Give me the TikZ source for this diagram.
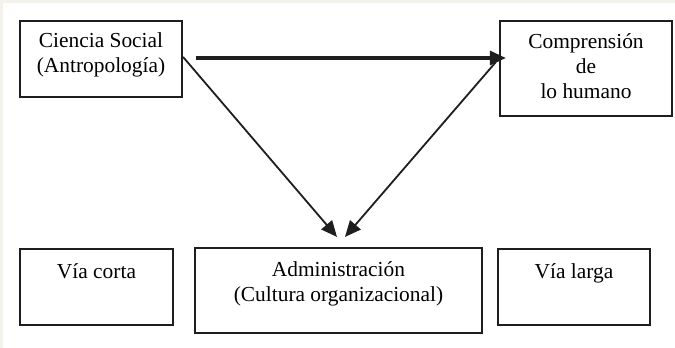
\documentclass[tikz,border=0pt]{standalone}
\usepackage{fontspec}
\setmainfont{Liberation Serif}
\usepackage{tikz}
\usetikzlibrary{arrows.meta, positioning, calc}

\definecolor{paper}{HTML}{F4F2ED}
\definecolor{ink}{HTML}{1E1E1E}

\begin{document}
\begin{tikzpicture}[
  x=0.5pt, y=-0.5pt,
  box/.style = {draw=ink, line width=1.1pt, inner sep=0pt},
  txt/.style = {align=center, inner sep=0pt, anchor=north, font=\fontsize{10.7}{12.5}\selectfont},
  bigarrow/.style = {draw=ink, line width=1.6pt, -{Triangle[length=8pt, width=7pt]}},
  arrow/.style = {draw=ink, line width=0.9pt, -{Triangle[length=8pt, width=7pt]}}
]

  % frame
  \fill[paper] (0,0) rectangle (675,348);
  \fill[white] (3,3) rectangle (675,348);
  \useasboundingbox (0,0) rectangle (675,348);

  % Ciencia Social
  \node[box, minimum width=81pt, minimum height=38pt] (ciencia) at (101,59) {};
  \node[txt, below=6pt of ciencia.north, anchor=north] (ciencia_t) {Ciencia Social\\(Antropología)};

  % Comprension
  \node[box, minimum width=86pt, minimum height=47.5pt] (compr) at (586,68.5) {};
  \node[txt, below=6.5pt of compr.north, anchor=north] (compr_t) {Comprensión\\de\\lo humano};

  % Via corta
  \node[box, minimum width=76.5pt, minimum height=38pt] (corta) at (96.5,287) {};
  \node[txt, below=7.5pt of corta.north, anchor=north] (corta_t) {Vía corta};

  % Administracion
  \node[box, minimum width=143.5pt, minimum height=42.5pt] (admin) at (338.5,290.5) {};
  \node[txt, below=7pt of admin.north, anchor=north] (admin_t) {Administración\\(Cultura organizacional)};

  % Via larga
  \node[box, minimum width=76pt, minimum height=38pt] (larga) at (574,287) {};
  \node[txt, below=7.5pt of larga.north, anchor=north] (larga_t) {Vía larga};

  % ciencia -> comprension
  \draw[bigarrow, shorten <=6.5pt, shorten >=-3.5pt] ([yshift=0.5pt]ciencia.east) -- ([yshift=0.5pt]ciencia.east -| compr.west);

  % ciencia -> administracion
  \draw[arrow] ([yshift=1pt]ciencia.east) -- ([xshift=-0.75pt, yshift=5pt]admin.north);

  % comprension -> administracion
  \draw[arrow] ([xshift=-1.5pt, yshift=3.25pt]compr.west) -- ([xshift=3.25pt, yshift=5pt]admin.north);

\end{tikzpicture}
\end{document}
